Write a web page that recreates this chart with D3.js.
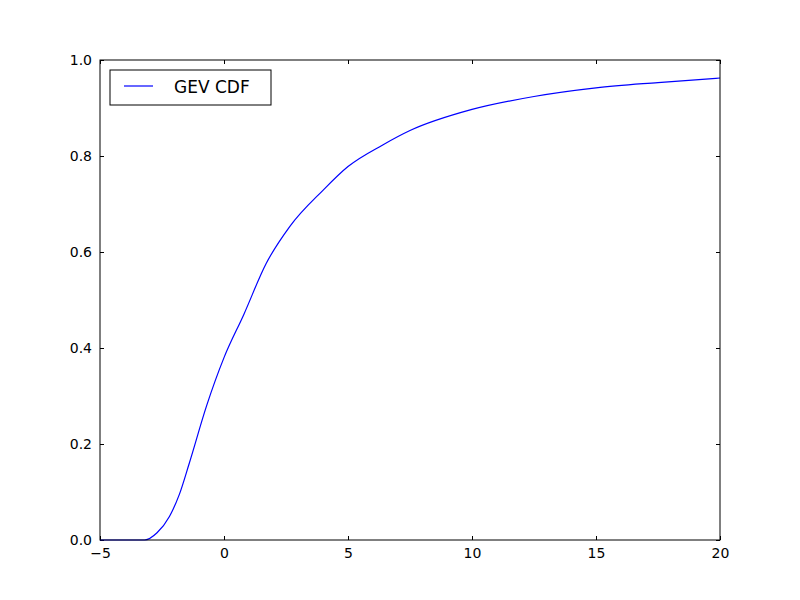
<!DOCTYPE html>
<html>
<head>
<meta charset="utf-8">
<script src="https://cdn.jsdelivr.net/npm/d3@7"></script>
<style>
  body { margin: 0; background: #fff; }
  text { font-family: "DejaVu Sans", sans-serif; }
</style>
</head>
<body>
<div id="chart"></div>
<script>
// values
const xs = [-5, -3.2, -2.7, -2.2, -1.8, -1.4, -0.7, 0, 0.8, 1.7, 2.65, 4, 5, 6.4, 7.5, 10, 12.5, 15, 17.5, 20];
const ys = [0, 0, 0.015, 0.049, 0.095, 0.16, 0.28, 0.38, 0.47, 0.576, 0.653, 0.729, 0.778, 0.823, 0.853, 0.897, 0.924, 0.942, 0.953, 0.9625];
const xTicks = [-5, 0, 5, 10, 15, 20];
const yTicks = [0, 0.2, 0.4, 0.6, 0.8, 1.0];
const seriesName = "GEV CDF";

const margin = { top: 60, right: 80, bottom: 60, left: 100 },
    width = 800 - margin.left - margin.right,
    height = 600 - margin.top - margin.bottom;

const svg = d3.select("#chart")
    .append("svg")
    .attr("width", 800)
    .attr("height", 600)
    .append("g")
    .attr("transform", `translate(${margin.left},${margin.top})`);

const x = d3.scaleLinear().domain([-5, 20]).range([0, width]);
const y = d3.scaleLinear().domain([0, 1]).range([height, 0]);

// axes, matplotlib classic style ticks pointing inward on all sides
const fmtY = d => d.toFixed(1);
svg.append("g").attr("transform", `translate(0,${height})`)
    .call(d3.axisBottom(x).tickValues(xTicks).tickSizeInner(-4).tickSizeOuter(0).tickPadding(8));
svg.append("g")
    .call(d3.axisTop(x).tickValues(xTicks).tickSizeInner(-4).tickSizeOuter(0).tickFormat(""));
svg.append("g")
    .call(d3.axisLeft(y).tickValues(yTicks).tickFormat(fmtY).tickSizeInner(-4).tickSizeOuter(0).tickPadding(8));
svg.append("g").attr("transform", `translate(${width},0)`)
    .call(d3.axisRight(y).tickValues(yTicks).tickSizeInner(-4).tickSizeOuter(0).tickFormat(""));
svg.selectAll(".domain").remove();
svg.selectAll(".tick text").attr("font-size", 14).attr("fill", "#000");
svg.selectAll(".tick line").attr("stroke", "#000");

const data = xs.map((v, i) => ({ x: v, y: ys[i] }));
svg.append("path")
    .datum(data)
    .attr("fill", "none")
    .attr("stroke", "#0000ff")
    .attr("stroke-width", 1.2)
    .attr("d", d3.line().x(d => x(d.x)).y(d => y(d.y)).curve(d3.curveMonotoneX));

svg.append("rect")
    .attr("width", width).attr("height", height)
    .attr("fill", "none").attr("stroke", "#000").attr("stroke-width", 1);

// legend
const lg = svg.append("g").attr("transform", "translate(10,10)");
lg.append("rect").attr("width", 161).attr("height", 35)
    .attr("fill", "#fff").attr("stroke", "#000");
lg.append("line").attr("x1", 14).attr("x2", 43).attr("y1", 16).attr("y2", 16)
    .attr("stroke", "#0000ff").attr("stroke-width", 1.2);
lg.append("text").attr("x", 64).attr("y", 23).attr("font-size", 17).text(seriesName);
</script>
</body>
</html>
